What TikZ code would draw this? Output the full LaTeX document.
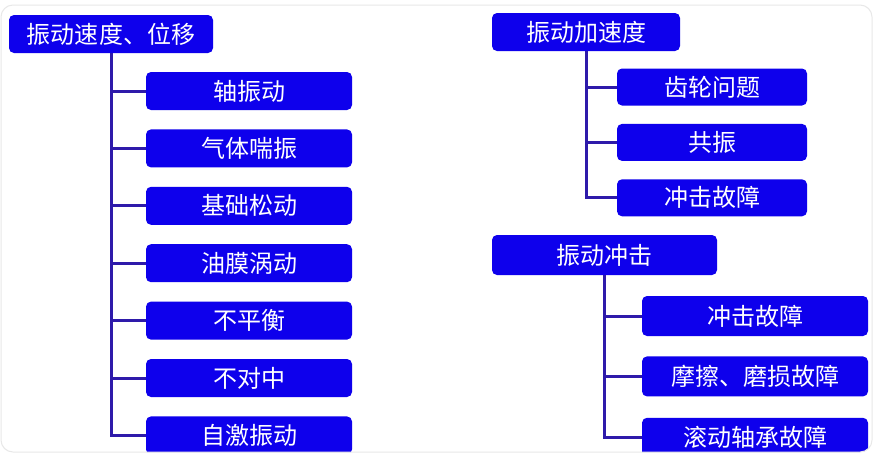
\documentclass[tikz,border=0pt]{standalone}
\usepackage{fontspec}
\newfontfamily\cjk{Noto Sans CJK SC}
\usetikzlibrary{positioning}
\definecolor{boxblue}{RGB}{14,0,236}
\definecolor{linkblue}{RGB}{46,26,170}
\tikzstyle{head} = [rectangle, rounded corners=5pt, fill=boxblue, text=white, minimum height=38pt, inner sep=0pt, text centered, font=\cjk\fontsize{24}{24}\selectfont]
\tikzstyle{leaf} = [head, minimum width=206pt]
\tikzstyle{link} = [line width=3pt, draw=linkblue]

\begin{document}
\begin{tikzpicture}[x=1pt, y=1pt]
	\useasboundingbox (0,0) rectangle (880,-475);
	\fill[white] (0,0) rectangle (880,-475);
	\begin{scope}
		\clip[rounded corners=12pt] (1,-5) rectangle (872,-452);
		% left tree
		\node(vel)[head, minimum width=204pt] at (111,-34) {振动速度、位移};
		\node(v1)[leaf] at (249,-91) {轴振动};
		\node(v2)[leaf, below=19pt of v1] {气体喘振};
		\node(v3)[leaf, below=19pt of v2] {基础松动};
		\node(v4)[leaf, below=19pt of v3] {油膜涡动};
		\node(v5)[leaf, below=19pt of v4] {不平衡};
		\node(v6)[leaf, below=19pt of v5] {不对中};
		\node(v7)[leaf, below=19pt of v6] {自激振动};

		% right upper tree
		\node(acc)[head, minimum width=188pt] at (586,-32) {振动加速度};
		\node(a1)[leaf, minimum width=190pt, minimum height=37pt] at (712,-87) {齿轮问题};
		\node(a2)[leaf, minimum width=190pt, minimum height=37pt, below=18pt of a1] {共振};
		\node(a3)[leaf, minimum width=190pt, minimum height=37pt, below=18pt of a2] {冲击故障};

		% right lower tree
		\node(imp)[head, minimum width=225pt, minimum height=40pt] at (604.5,-255) {振动冲击};
		\node(i1)[leaf, minimum width=226pt, minimum height=40pt] at (755,-316) {冲击故障};
		\node(i2)[leaf, minimum width=226pt, minimum height=40pt, below=20pt of i1] {摩擦、磨损故障};
		\node(i3)[leaf, minimum width=226pt, minimum height=40pt, below=21pt of i2] {滚动轴承故障};

		\draw [link] (vel.south) |- (v7.west);
		\foreach \n in {v1,v2,v3,v4,v5,v6}
			\draw [link] (vel.south |- \n.west) -- (\n.west);
		\draw [link] (acc.south) |- (a3.west);
		\foreach \n in {a1,a2}
			\draw [link] (acc.south |- \n.west) -- (\n.west);
		\draw [link] (imp.south) |- (i3.west);
		\foreach \n in {i1,i2}
			\draw [link] (imp.south |- \n.west) -- (\n.west);
	\end{scope}
	\draw[gray!18, line width=1pt, rounded corners=12pt] (1,-5) rectangle (872,-452);
\end{tikzpicture}
\end{document}
